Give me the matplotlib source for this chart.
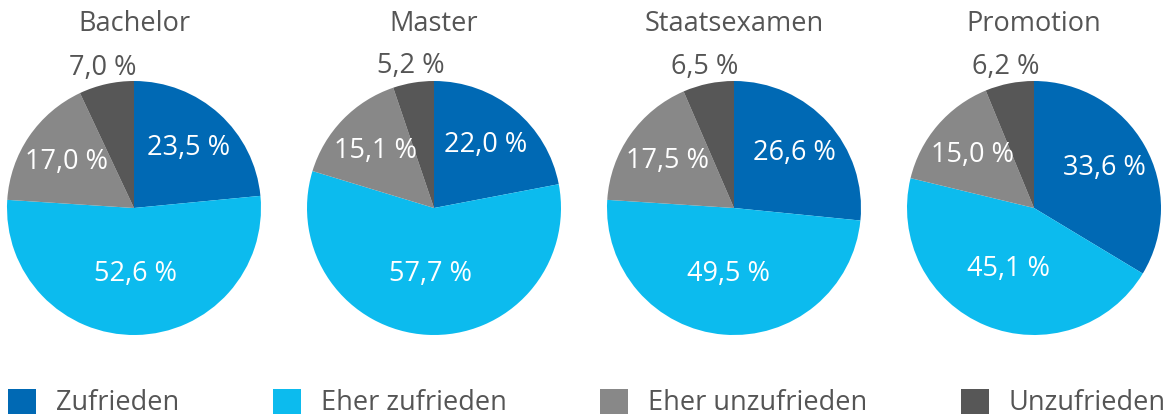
import numpy as np
import matplotlib
matplotlib.use("Agg")
import matplotlib.pyplot as plt
from matplotlib.patches import Patch

plt.rcParams["font.family"] = ["Open Sans", "DejaVu Sans"]

# data
groups = ["Bachelor", "Master", "Staatsexamen", "Promotion"]
categories = ["Zufrieden", "Eher zufrieden", "Eher unzufrieden", "Unzufrieden"]
zufrieden = [23.5, 22.0, 26.6, 33.6]
eher_zufrieden = [52.6, 57.7, 49.5, 45.1]
eher_unzufrieden = [17.0, 15.1, 17.5, 15.0]
unzufrieden = [7.0, 5.2, 6.5, 6.2]

colors = ["#0069b4", "#0cbbee", "#888888", "#575757"]
text_grey = "#555555"

W, H = 1169, 419
fig = plt.figure(figsize=(W / 100, H / 100), dpi=100)

R = 127
for i, name in enumerate(groups):
    cx = 134 + 300 * i
    cy = 208
    ax = fig.add_axes([(cx - R) / W, (H - cy - R) / H, 2 * R / W, 2 * R / H])
    vals = [zufrieden[i], eher_zufrieden[i], eher_unzufrieden[i], unzufrieden[i]]
    ax.pie(vals, colors=colors, startangle=90, counterclock=False, radius=1,
           wedgeprops=dict(linewidth=0))
    ax.set_xlim(-1, 1)
    ax.set_ylim(-1, 1)
    ax.set_aspect("equal")
    ax.axis("off")

    # labels: small slices outside, big ones nearer the centre
    start = 90.0
    total = sum(vals)
    for v in vals:
        span = v / total * 360
        mid = np.deg2rad(start - span / 2)
        start -= span
        txt = f"{v:.1f} %".replace(".", ",")
        if v < 10:
            d, col = 1.13, text_grey
        elif v > 40:
            d, col = 0.52, "white"
        else:
            d, col = 0.64, "white"
        ax.text(d * np.cos(mid), d * np.sin(mid), txt, ha="center", va="center",
                fontsize=19.5, color=col, clip_on=False)

    ax.text(0, 1.45, name, ha="center", va="center", fontsize=19.5,
            color=text_grey, clip_on=False)

handles = [Patch(facecolor=c, edgecolor="none") for c in colors]
fig.legend(handles, categories, ncol=4, loc="center left",
           bbox_to_anchor=(8 / W, 16 / H),
           frameon=False, fontsize=19.5, labelcolor=text_grey,
           handlelength=1.05, handleheight=1.05, handletextpad=0.72,
           columnspacing=3.45, borderaxespad=0, borderpad=0)

fig.savefig("out.png", dpi=100)
